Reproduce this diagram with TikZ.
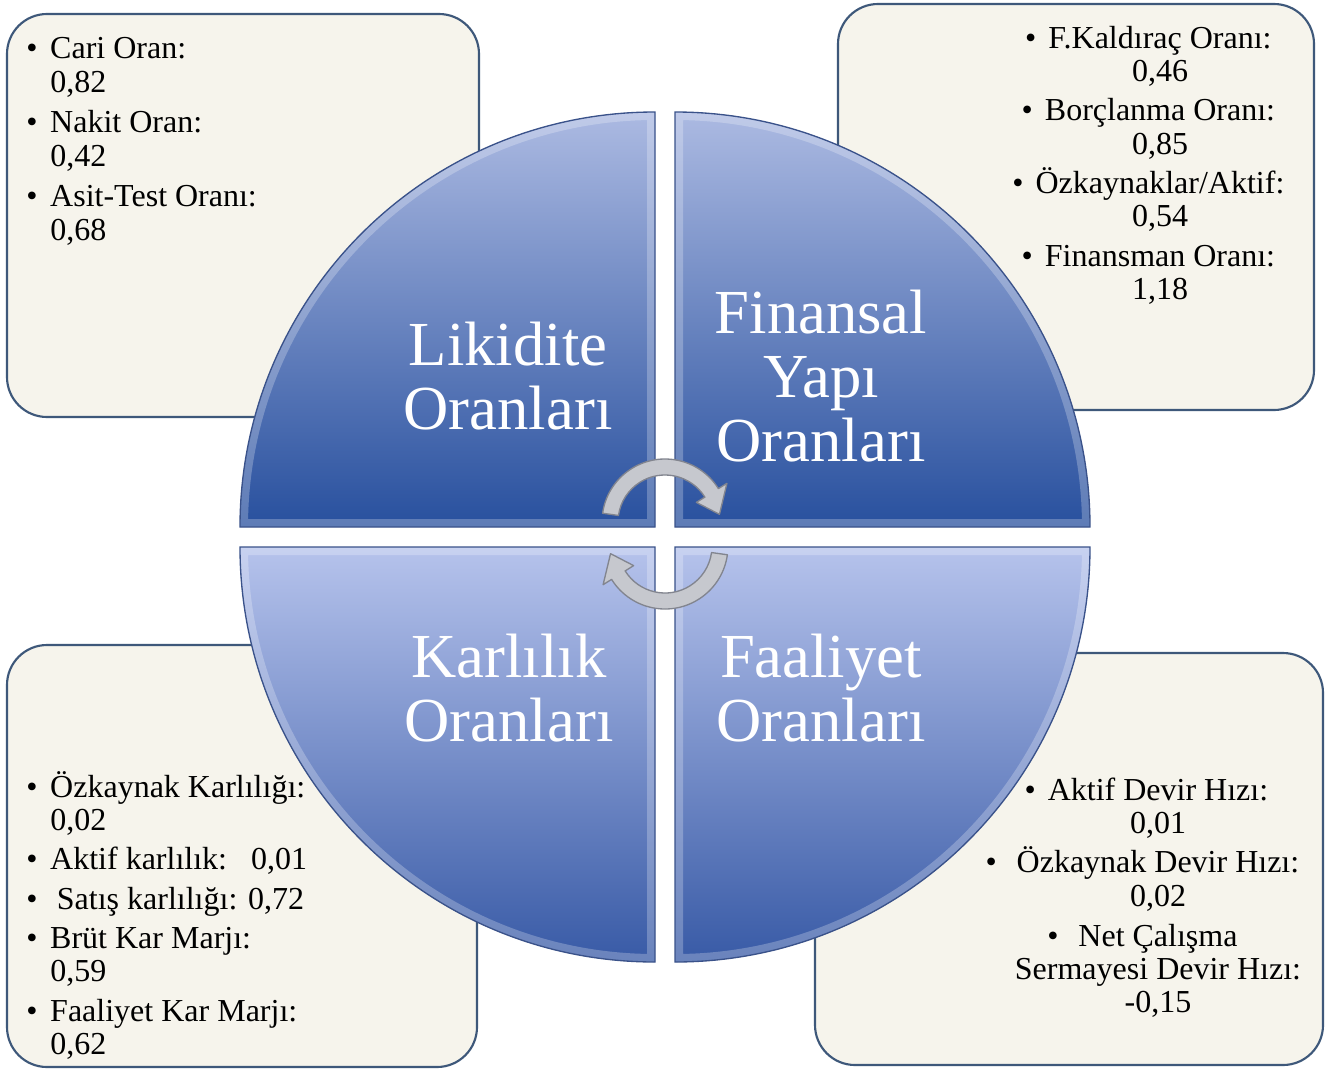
\documentclass[tikz,border=0pt]{standalone}
\usepackage{fontspec}
\setmainfont{Liberation Serif}
\usetikzlibrary{calc}
\definecolor{boxborder}{RGB}{62,88,122}
\definecolor{boxfill}{RGB}{246,244,236}
\definecolor{qtoplight}{RGB}{172,186,226}
\definecolor{qtopdark}{RGB}{40,80,158}
\definecolor{qbotlight}{RGB}{182,195,236}
\definecolor{qbotdark}{RGB}{56,90,166}
\definecolor{qedge}{RGB}{58,82,138}
\definecolor{arrfill}{RGB}{198,200,206}
\definecolor{arredge}{RGB}{130,133,143}
\newcommand\bul{\makebox[18pt][l]{\textbullet}}
\newcommand\ind{\hspace*{18pt}}
\newcommand\cb{\leavevmode\llap{\textbullet\hspace{9pt}}}
\newcommand\cbw{\leavevmode\llap{\textbullet\hspace{15pt}}}
\newcommand\smallfont{\fontsize{24}{25}\selectfont}
\newcommand\bigfont{\fontsize{47}{48}\selectfont}
\def\qTL{(655,527) -- (240,527) arc[start angle=180,end angle=270,radius=415] -- cycle}
\def\qTR{(675,527) -- (675,112) arc[start angle=270,end angle=360,radius=415] -- cycle}
\def\qBL{(655,547) -- (655,962) arc[start angle=90,end angle=180,radius=415] -- cycle}
\def\qBR{(675,547) -- (1090,547) arc[start angle=0,end angle=90,radius=415] -- cycle}
\begin{document}
\begin{tikzpicture}[x=0.75pt,y=-0.75pt,
  infobox/.style={draw=boxborder, line width=1.6pt, fill=boxfill, rounded corners=30pt},
  listtext/.style={inner sep=0pt, anchor=base, text=black},
  bigtext/.style={inner sep=0pt, anchor=base, text=white},
  qedgeline/.style={draw=qedge, line width=1pt},
  bevel/.style={draw=white, opacity=0.25, line width=12pt},
  curvedarrow/.style={fill=arrfill, draw=arredge, line width=1pt, line join=round}]
\useasboundingbox (0,0) rectangle (1334,1071);
\fill[white] (0,0) rectangle (1334,1071);

% info boxes
\path[infobox] (7,14) rectangle (479,417);
\path[infobox] (838,4) rectangle (1314,410);
\path[infobox] (7,645) rectangle (477,1067);
\path[infobox] (815,653) rectangle (1323,1065);

% box texts
\node[listtext, anchor=base west] (tltext) at (26,58) {\parbox[t]{330pt}{\raggedright\fontsize{24}{25.5}\selectfont
\bul Cari Oran:\\
\ind 0,82\\[4.5pt]
\bul Nakit Oran:\\
\ind 0,42\\[4.5pt]
\bul Asit-Test Oranı:\\
\ind 0,68}};

\node[listtext] (trtext) at (1160,48) {\parbox[t]{320pt}{\centering\smallfont
\cb F.Kaldıraç Oranı:\\
0,46\\[4.5pt]
\cb Borçlanma Oranı:\\
0,85\\[4.5pt]
\cb Özkaynaklar/Aktif:\\
0,54\\[4.5pt]
\cb Finansman Oranı:\\
1,18}};

\node[listtext, anchor=base west] (bltext) at (26,797) {\parbox[t]{330pt}{\raggedright\smallfont
\bul Özkaynak Karlılığı:\\
\ind 0,02\\[4.5pt]
\bul Aktif karlılık:\ \ \ 0,01\\[4.5pt]
\bul\hspace{5pt}Satış karlılığı: 0,72\\[4.5pt]
\bul Brüt Kar Marjı:\\
\ind 0,59\\[4.5pt]
\bul Faaliyet Kar Marjı:\\
\ind 0,62}};

\node[listtext] (brtext) at (1158,800) {\parbox[t]{340pt}{\centering\smallfont
\cb Aktif Devir Hızı:\\
0,01\\[4.5pt]
\cbw Özkaynak Devir Hızı:\\
0,02\\[5pt]
\cbw Net Çalışma\\
Sermayesi Devir Hızı:\\
-0,15}};

% quadrants
\begin{scope}
\clip \qTL;
\fill[top color=qtoplight, bottom color=qtopdark] (240,112) rectangle (655,527);
\draw[bevel] \qTL;
\end{scope}
\draw[qedgeline] \qTL;
\begin{scope}
\clip \qTR;
\fill[top color=qtoplight, bottom color=qtopdark] (675,112) rectangle (1090,527);
\draw[bevel] \qTR;
\end{scope}
\draw[qedgeline] \qTR;
\begin{scope}
\clip \qBL;
\fill[top color=qbotlight, bottom color=qbotdark] (240,547) rectangle (655,962);
\draw[bevel] \qBL;
\end{scope}
\draw[qedgeline] \qBL;
\begin{scope}
\clip \qBR;
\fill[top color=qbotlight, bottom color=qbotdark] (675,547) rectangle (1090,962);
\draw[bevel] \qBR;
\end{scope}
\draw[qedgeline] \qBR;

% quadrant labels
\node[bigtext] (likidite) at (508,365) {\parbox[t]{300pt}{\centering\bigfont Likidite\\Oranları}};
\node[bigtext] (finansal) at (821,333) {\parbox[t]{300pt}{\centering\bigfont Finansal\\Yapı\\Oranları}};
\node[bigtext] (karlilik) at (509,677) {\parbox[t]{300pt}{\centering\bigfont Karlılık\\Oranları}};
\node[bigtext] (faaliyet) at (821,677) {\parbox[t]{300pt}{\centering\bigfont Faaliyet\\Oranları}};

% cycle arrows
\coordinate (c1) at (665,522);
\coordinate (c2) at (665,546);
\path[curvedarrow] ($(c1)+(188:63)$) arc[start angle=188,end angle=328,radius=63]
  -- ($(c1)+(328:73)$) -- ($(c1)+(352:55)$) -- ($(c1)+(328:37)$)
  -- ($(c1)+(328:47)$) arc[start angle=328,end angle=188,radius=47] -- cycle;
\path[curvedarrow] ($(c2)+(8:63)$) arc[start angle=8,end angle=148,radius=63]
  -- ($(c2)+(148:73)$) -- ($(c2)+(172:55)$) -- ($(c2)+(148:37)$)
  -- ($(c2)+(148:47)$) arc[start angle=148,end angle=8,radius=47] -- cycle;
\end{tikzpicture}
\end{document}
